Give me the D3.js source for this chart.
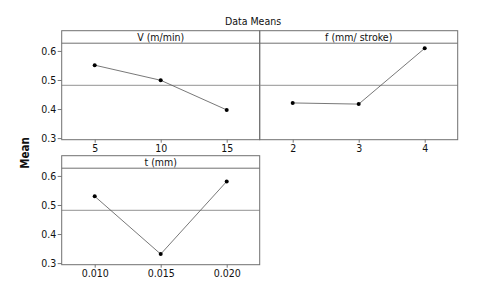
<!DOCTYPE html>
<html>
<head>
<meta charset="utf-8">
<script src="https://cdn.jsdelivr.net/npm/d3@7"></script>
<style>
  body { margin: 0; background: #fff; }
  svg text { font-family: "DejaVu Sans Condensed", "DejaVu Sans", sans-serif; fill: #111; }
</style>
</head>
<body>
<div id="chart-area"><svg></svg></div>
<script>
const CHART_SIZE = { width: 496, height: 306 };
const PANEL = { width: 198, header: 12.5, plot: 96.5 };

const vLevels = ["5", "10", "15"];
const vMeans = [0.551, 0.499, 0.397];
const fLevels = ["2", "3", "4"];
const fMeans = [0.421, 0.417, 0.609];
const tLevels = ["0.010", "0.015", "0.020"];
const tMeans = [0.530, 0.331, 0.581];
const yTicks = [0.3, 0.4, 0.5, 0.6];
const yDomain = [0.2945, 0.6266];

const panels = [
  { title: "V (m/min)", levels: vLevels, means: vMeans, left: 61.7, top: 30.7, yAxis: true },
  { title: "f (mm/ stroke)", levels: fLevels, means: fMeans, left: 259.7, top: 30.7, yAxis: false },
  { title: "t (mm)", levels: tLevels, means: tMeans, left: 61.7, top: 155.7, yAxis: true }
];

const grandMean = d3.mean(vMeans.concat(fMeans, tMeans));

const svg = d3
  .select("#chart-area svg")
  .attr("width", CHART_SIZE.width)
  .attr("height", CHART_SIZE.height);

svg.append("text")
  .attr("x", 253)
  .attr("y", 25)
  .attr("text-anchor", "middle")
  .attr("font-size", 10.5)
  .text("Data Means");

svg.append("text")
  .attr("transform", "translate(28.5,153) rotate(-90)")
  .attr("text-anchor", "middle")
  .attr("font-size", 11.5)
  .attr("font-weight", "bold")
  .text("Mean");

const y = d3.scaleLinear().domain(yDomain).range([PANEL.plot, 0]);

const drawPanel = function(p) {
  const g = svg.append("g")
    .attr("transform", `translate(${p.left},${p.top})`);

  const x = d3.scalePoint()
    .domain(p.levels)
    .range([0, PANEL.width])
    .padding(0.5);

  const plot = g.append("g").attr("transform", `translate(0,${PANEL.header})`);

  // reference line at overall mean
  plot.append("line")
    .attr("x1", 0)
    .attr("x2", PANEL.width)
    .attr("y1", y(grandMean))
    .attr("y2", y(grandMean))
    .attr("stroke", "#a8a8a8")
    .attr("stroke-width", 1.3);

  const pts = p.levels.map((l, i) => [x(l), y(p.means[i])]);
  plot.append("path")
    .attr("d", d3.line()(pts))
    .attr("fill", "none")
    .attr("stroke", "#555")
    .attr("stroke-width", 0.8);

  plot.selectAll("circle")
    .data(pts)
    .enter()
    .append("circle")
    .attr("cx", d => d[0])
    .attr("cy", d => d[1])
    .attr("r", 2)
    .attr("fill", "#000");

  const xAxis = d3.axisBottom(x).tickSize(3).tickSizeOuter(0);
  const xg = plot.append("g")
    .attr("transform", `translate(0,${PANEL.plot})`)
    .call(xAxis);
  xg.select(".domain").remove();
  xg.selectAll("line").attr("stroke", "#777");
  xg.selectAll("text").attr("font-size", 10.5).attr("font-family", null).attr("y", 4.5);

  if (p.yAxis) {
    const yAxis = d3.axisLeft(y).tickValues(yTicks).tickFormat(d3.format(".1f")).tickSize(4);
    const yg = plot.append("g").call(yAxis);
    yg.select(".domain").remove();
    yg.selectAll("line").attr("stroke", "#777");
    yg.selectAll("text").attr("font-size", 10.5).attr("font-family", null).attr("x", -5.5);
  }

  // header strip and frame
  g.append("line")
    .attr("x1", 0)
    .attr("x2", PANEL.width)
    .attr("y1", PANEL.header)
    .attr("y2", PANEL.header)
    .attr("stroke", "#707070");
  g.append("rect")
    .attr("x", 0)
    .attr("y", 0)
    .attr("width", PANEL.width)
    .attr("height", PANEL.header + PANEL.plot)
    .attr("fill", "none")
    .attr("stroke", "#707070");

  g.append("text")
    .attr("x", PANEL.width / 2)
    .attr("y", PANEL.header - 2.5)
    .attr("text-anchor", "middle")
    .attr("font-size", 10.5)
    .text(p.title);
};

panels.forEach(drawPanel);
</script>
</body>
</html>
